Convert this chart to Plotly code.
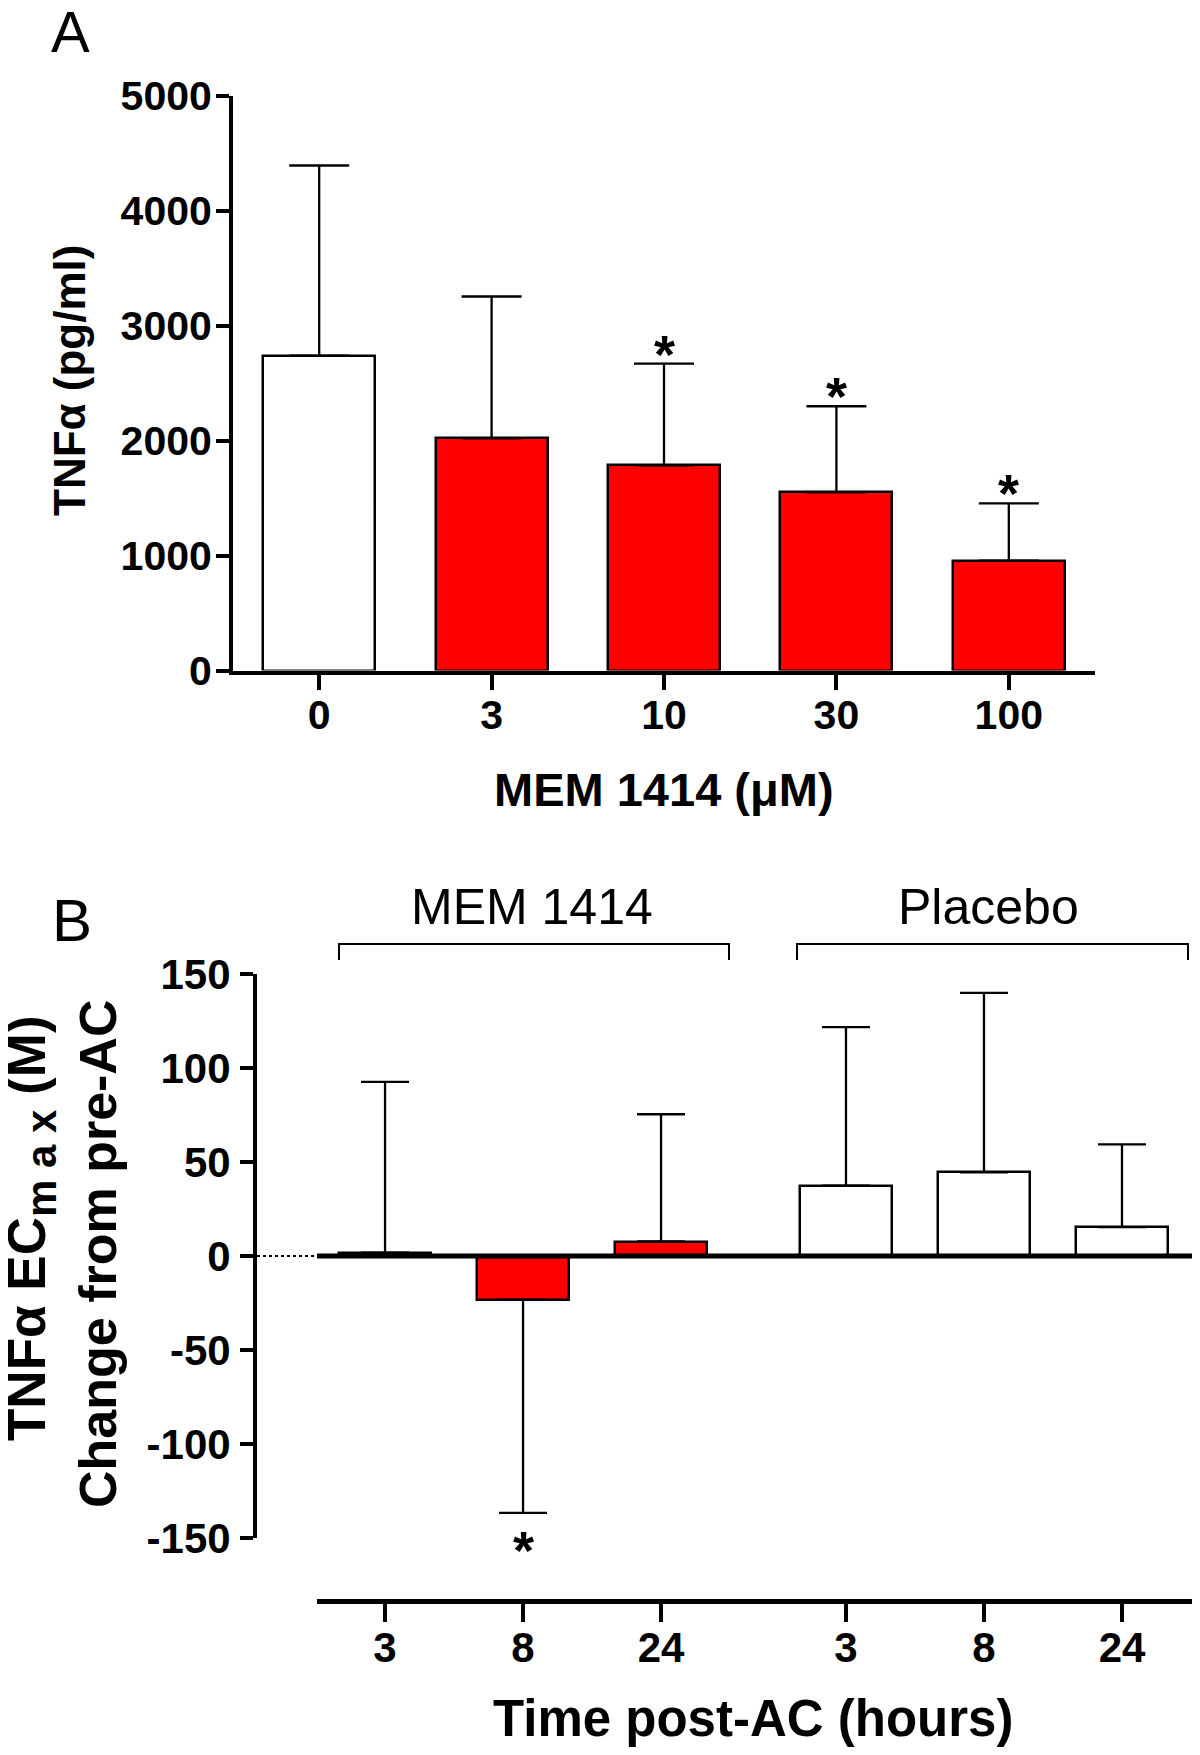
import plotly.graph_objects as go

W, H = 1200, 1755
OFF = 8  # page body margin offset


def fx(p):
    return (p - OFF) / W


def fy(p):
    return 1 - (p - OFF) / H


# ---------------- Panel A data ----------------
a_doses = ["0", "3", "10", "30", "100"]
a_means = [2740, 2020, 1785, 1550, 955]
a_upper = [4395, 3255, 2670, 2300, 1455]
a_fill = ["white", "red", "red", "red", "red"]
a_sig = [False, False, True, True, True]
a_yticks = [0, 1000, 2000, 3000, 4000, 5000]

# ---------------- Panel B data ----------------
b_groups = ["MEM 1414", "Placebo"]
b_times = ["3", "8", "24", "3", "8", "24"]
b_means = [1.8, -23.2, 7.7, 37.4, 44.5, 15.4]
b_err_end = [92.6, -136.6, 75.4, 121.7, 140.0, 59.4]
b_fill = ["red", "red", "red", "white", "white", "white"]
b_sig = [False, True, False, False, False, False]
b_yticks = [-150, -100, -50, 0, 50, 100, 150]

FONT = "Liberation Sans, Arial, sans-serif"

a_x = list(range(len(a_doses)))
b_x = [i + (i // 3) * 0.34 for i in range(len(b_times))]

fig = go.Figure()

fig.add_trace(go.Bar(
    x=a_x, y=a_means, width=0.65,
    marker=dict(color=a_fill, line=dict(color="black", width=2.5)),
    error_y=dict(type="data", symmetric=False,
                 array=[u - m for u, m in zip(a_upper, a_means)],
                 arrayminus=[0] * len(a_means),
                 color="black", thickness=2.3, width=30),
    xaxis="x", yaxis="y", showlegend=False,
))

fig.add_trace(go.Bar(
    x=b_x, y=b_means, width=0.667,
    marker=dict(color=b_fill, line=dict(color="black", width=2.5)),
    error_y=dict(type="data", symmetric=False,
                 array=[max(e - m, 0) for e, m in zip(b_err_end, b_means)],
                 arrayminus=[max(m - e, 0) for e, m in zip(b_err_end, b_means)],
                 color="black", thickness=2.3, width=24),
    xaxis="x2", yaxis="y2", showlegend=False,
))

axis_common = dict(showgrid=False, zeroline=False, showline=True, linecolor="black",
                   ticks="outside", tickcolor="black", tickwidth=4,
                   tickfont=dict(family=FONT, size=41, color="black", weight="bold"))

annotations = []
shapes = []


def label(x, y, text, size, bold=True, angle=0):
    return dict(x=fx(x), y=fy(y), xref="paper", yref="paper", text=text, showarrow=False,
                xanchor="center", yanchor="middle", textangle=angle,
                font=dict(family=FONT, size=size, color="black",
                          weight="bold" if bold else "normal"))


# Asterisks panel A
for i, (u, s) in enumerate(zip(a_upper, a_sig)):
    if s:
        annotations.append(dict(x=i, y=u, xref="x", yref="y", text="*", showarrow=False,
                                xanchor="center", yanchor="bottom", yshift=-22,
                                font=dict(family=FONT, size=54, color="black", weight="bold")))
# Asterisks panel B
for xi, e, s in zip(b_x, b_err_end, b_sig):
    if s:
        annotations.append(dict(x=xi, y=e, xref="x2", yref="y2", text="*", showarrow=False,
                                xanchor="center", yanchor="top", yshift=-5,
                                font=dict(family=FONT, size=54, color="black", weight="bold")))

annotations += [
    label(70, 31, "A", 58, bold=False),
    label(72, 921, "B", 60, bold=False),
    label(664, 789, "MEM 1414 (μM)", 47),
    label(69, 381, "TNFα (pg/ml)", 44, angle=-90),
    label(753, 1718, "Time post-AC (hours)", 51),
    label(31, 1228, "TNFα EC<sub><span style='font-size:42px'>m a x</span></sub> (M)", 53, angle=-90),
    label(98, 1254, "Change from pre-AC", 52, angle=-90),
    label(532, 907, b_groups[0], 50, bold=False),
    label(988, 907, b_groups[1], 50, bold=False),
]

# Brackets
for x0, x1 in [(339, 729), (797, 1188)]:
    shapes.append(dict(type="path", xref="paper", yref="paper",
                       path=f"M {fx(x0)},{fy(960)} L {fx(x0)},{fy(944)} L {fx(x1)},{fy(944)} L {fx(x1)},{fy(960)}",
                       line=dict(color="black", width=2)))
# Zero line panel B
shapes.append(dict(type="line", xref="x2 domain", yref="y2", x0=0, x1=1, y0=0, y1=0,
                   line=dict(color="black", width=5), layer="above"))
# dotted extension to y-axis
shapes.append(dict(type="line", xref="paper", yref="y2", x0=fx(257), x1=fx(317), y0=0, y1=0,
                   line=dict(color="black", width=2, dash="dot")))

fig.update_layout(
    width=W, height=H, margin=dict(l=0, r=0, t=0, b=0),
    paper_bgcolor="white", plot_bgcolor="white", template="none",
    bargap=0,
    xaxis=dict(axis_common, domain=[fx(233), fx(1095)], range=[-0.5, 4.5],
               tickvals=a_x, ticktext=a_doses, anchor="y", linewidth=4, ticklen=15,
               ticklabelstandoff=-10),
    yaxis=dict(axis_common, domain=[fy(670.5), fy(96)], range=[0, 5000],
               tickvals=a_yticks, ticktext=[str(v) for v in a_yticks], anchor="x",
               linewidth=4, ticklen=13, ticklabelstandoff=-4),
    xaxis2=dict(axis_common, domain=[fx(317), min(fx(1207), 1)], range=[-0.493, 5.956],
                tickvals=b_x, ticktext=b_times, anchor="free", position=fy(1601),
                linewidth=5, ticklen=18, ticklabelstandoff=-10,
                tickfont=dict(family=FONT, size=42, color="black", weight="bold")),
    yaxis2=dict(axis_common, domain=[fy(1538), fy(974)], range=[-150, 150],
                tickvals=b_yticks, ticktext=[str(v) for v in b_yticks], anchor="free",
                position=fx(255), linewidth=4, ticklen=13, ticklabelstandoff=1,
                tickfont=dict(family=FONT, size=42, color="black", weight="bold")),
    annotations=annotations,
    shapes=shapes,
)

fig.write_html("out.html")
